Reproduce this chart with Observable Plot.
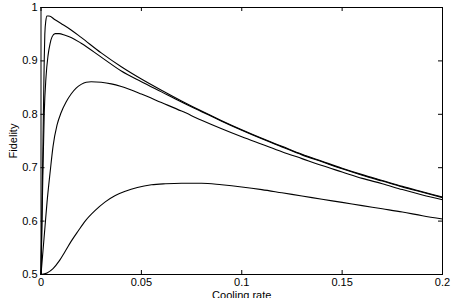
<!DOCTYPE html>
<html>
<head>
<meta charset="utf-8">
<script src="https://cdn.jsdelivr.net/npm/d3@7"></script>
<script src="https://cdn.jsdelivr.net/npm/@observablehq/plot@0.6"></script>
<style>
  html, body { margin: 0; padding: 0; background: #fff; }
  svg { display: block; }
</style>
</head>
<body>
<div id="chart"></div>
<script>
const xLabel = "Cooling rate";
const yLabel = "Fidelity";
const xTicks = [0, 0.05, 0.1, 0.15, 0.2];
const xTickLabels = ["0", "0.05", "0.1", "0.15", "0.2"];
const yTicks = [0.5, 0.6, 0.7, 0.8, 0.9, 1];
const yTickLabels = ["0.5", "0.6", "0.7", "0.8", "0.9", "1"];

const xA = [0, 0.0004, 0.0008, 0.0012, 0.0016, 0.0019, 0.0024, 0.003, 0.004, 0.007, 0.01, 0.015, 0.02, 0.03, 0.04, 0.05, 0.06, 0.07, 0.08, 0.09, 0.1, 0.11, 0.12, 0.13, 0.14, 0.15, 0.16, 0.17, 0.18, 0.19, 0.2];
const yA = [0.5, 0.6, 0.7, 0.8, 0.9, 0.95, 0.975, 0.984, 0.984, 0.977, 0.970, 0.958, 0.944, 0.915, 0.889, 0.866, 0.845, 0.825, 0.806, 0.788, 0.771, 0.755, 0.740, 0.725, 0.712, 0.699, 0.687, 0.676, 0.665, 0.655, 0.645];

const xB = [0, 0.0005, 0.001, 0.0016, 0.0025, 0.0035, 0.0045, 0.0055, 0.007, 0.009, 0.012, 0.015, 0.02, 0.03, 0.04, 0.05, 0.06, 0.07, 0.08, 0.09, 0.1, 0.11, 0.12, 0.13, 0.14, 0.15, 0.16, 0.17, 0.18, 0.19, 0.2];
const yB = [0.5, 0.6, 0.7, 0.8, 0.87, 0.91, 0.932, 0.945, 0.951, 0.951, 0.948, 0.944, 0.933, 0.907, 0.881, 0.861, 0.842, 0.823, 0.805, 0.787, 0.770, 0.754, 0.739, 0.724, 0.711, 0.698, 0.686, 0.675, 0.664, 0.654, 0.644];

const xC = [0, 0.001, 0.002, 0.003, 0.0045, 0.006, 0.008, 0.01, 0.0125, 0.015, 0.0175, 0.02, 0.0225, 0.025, 0.03, 0.035, 0.04, 0.05, 0.06, 0.07, 0.08, 0.09, 0.1, 0.11, 0.12, 0.13, 0.14, 0.15, 0.16, 0.17, 0.18, 0.19, 0.2];
const yC = [0.5, 0.545, 0.59, 0.635, 0.69, 0.74, 0.78, 0.803, 0.823, 0.838, 0.849, 0.856, 0.860, 0.861, 0.860, 0.857, 0.852, 0.838, 0.822, 0.806, 0.789, 0.773, 0.758, 0.744, 0.730, 0.717, 0.704, 0.692, 0.680, 0.670, 0.659, 0.649, 0.640];

const xD = [0, 0.003, 0.006, 0.009, 0.012, 0.015, 0.0186, 0.022, 0.027, 0.032, 0.037, 0.042, 0.048, 0.055, 0.062, 0.07, 0.08, 0.09, 0.1, 0.11, 0.12, 0.13, 0.14, 0.15, 0.16, 0.17, 0.18, 0.19, 0.2];
const yD = [0.5, 0.503, 0.511, 0.525, 0.543, 0.562, 0.582, 0.600, 0.620, 0.636, 0.648, 0.656, 0.663, 0.668, 0.670, 0.671, 0.671, 0.668, 0.664, 0.659, 0.653, 0.647, 0.641, 0.635, 0.629, 0.623, 0.617, 0.610, 0.604];

const series = [
  {name: "A", x: xA, y: yA},
  {name: "B", x: xB, y: yB},
  {name: "C", x: xC, y: yC},
  {name: "D", x: xD, y: yD}
];
const rows = series.flatMap(s => s.x.map((x, i) => ({series: s.name, x, y: s.y[i]})));

const W = 463, H = 298;
const mL = 40.5, mR = 21, mT = 7, mB = 24;
const innerH = H - mT - mB, innerW = W - mL - mR;
const tickLen = 4;

const chart = Plot.plot({
  width: W,
  height: H,
  marginLeft: mL,
  marginRight: mR,
  marginTop: mT,
  marginBottom: mB,
  style: {fontFamily: "'Liberation Sans', Arial, Helvetica, sans-serif", fontSize: "11px", background: "#fff", color: "#000"},
  x: {domain: [0, 0.2]},
  y: {domain: [0.5, 1]},
  marks: [
    Plot.line(rows, {x: "x", y: "y", z: "series", stroke: "#000", strokeWidth: 1.1, curve: "monotone-x"}),
    Plot.frame({stroke: "#000", strokeWidth: 1}),
    Plot.tickX(xTicks, {x: d => d, insetTop: innerH - tickLen, stroke: "#000"}),
    Plot.tickX(xTicks, {x: d => d, insetBottom: innerH - tickLen, stroke: "#000"}),
    Plot.tickY(yTicks, {y: d => d, insetRight: innerW - tickLen, stroke: "#000"}),
    Plot.tickY(yTicks, {y: d => d, insetLeft: innerW - tickLen, stroke: "#000"}),
    Plot.axisX({ticks: xTicks, tickSize: 0, tickPadding: 4, tickFormat: (d, i) => xTickLabels[i], label: null, fontSize: 11, fill: "#000"}),
    Plot.axisY({ticks: yTicks, tickSize: 0, tickPadding: 3.5, tickFormat: (d, i) => yTickLabels[i], label: null, fontSize: 11, fill: "#000"}),
    Plot.text([xLabel], {frameAnchor: "bottom", dy: 24, lineAnchor: "bottom", textAnchor: "middle", fontSize: 11, fill: "#000"}),
    Plot.text([yLabel], {frameAnchor: "left", dx: -24, rotate: -90, lineAnchor: "bottom", textAnchor: "middle", fontSize: 11, fill: "#000"})
  ]
});
document.getElementById("chart").appendChild(chart);
</script>
</body>
</html>
